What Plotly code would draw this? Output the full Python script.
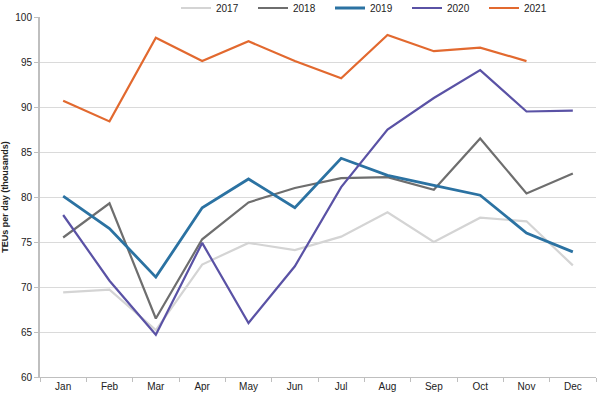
import plotly.graph_objects as go

months = ["Jan", "Feb", "Mar", "Apr", "May", "Jun", "Jul", "Aug", "Sep", "Oct", "Nov", "Dec"]
y2017 = [69.4, 69.7, 65.2, 72.5, 74.9, 74.1, 75.6, 78.3, 75.0, 77.7, 77.3, 72.4]
y2018 = [75.5, 79.3, 66.5, 75.3, 79.4, 81.0, 82.1, 82.2, 80.8, 86.5, 80.4, 82.6]
y2019 = [80.1, 76.5, 71.1, 78.8, 82.0, 78.8, 84.3, 82.4, 81.3, 80.2, 76.0, 73.9]
y2020 = [78.0, 70.7, 64.7, 74.9, 66.0, 72.3, 81.1, 87.5, 91.0, 94.1, 89.5, 89.6]
y2021 = [90.7, 88.4, 97.7, 95.1, 97.3, 95.1, 93.2, 98.0, 96.2, 96.6, 95.1]

series = [
    ("2017", y2017, "#D4D4D4", 2.2),
    ("2018", y2018, "#6E6E6E", 2.2),
    ("2019", y2019, "#2B72A2", 2.8),
    ("2020", y2020, "#5A52A5", 2.2),
    ("2021", y2021, "#E2692F", 2.2),
]

fig = go.Figure()
for name, vals, color, w in series:
    fig.add_trace(go.Scatter(
        x=months[:len(vals)], y=vals, name=name, mode="lines",
        line=dict(color=color, width=w),
    ))

font = "Liberation Sans, Arial, sans-serif"
fig.update_layout(
    width=600, height=394,
    margin=dict(l=40, r=4, t=17, b=17, autoexpand=False),
    paper_bgcolor="white", plot_bgcolor="white",
    font=dict(family=font, size=10, color="#222222"),
    showlegend=True,
    legend=dict(
        orientation="h", xref="container", x=176/600, xanchor="left",
        yref="container", y=(394 - 8) / 394, yanchor="middle",
        font=dict(size=10, color="#222222"),
        bgcolor="rgba(0,0,0,0)", tracegroupgap=0,
        entrywidth=32, entrywidthmode="pixels",
    ),
    xaxis=dict(
        type="category", categoryorder="array", categoryarray=months,
        range=[-0.5, 11.5], showgrid=False,
        showline=True, linecolor="#BFBFBF", linewidth=1,
        ticks="outside", tickson="boundaries", ticklen=4, tickcolor="#BFBFBF",
        tickfont=dict(size=10, color="#222222"), automargin=False,
        fixedrange=True,
    ),
    yaxis=dict(
        range=[60, 100], dtick=5, tick0=60,
        showgrid=True, gridcolor="#DADADA", gridwidth=1,
        showline=True, linecolor="#BFBFBF", linewidth=2,
        ticks="outside", ticklen=4, tickcolor="#BFBFBF",
        tickfont=dict(size=10, color="#222222"), automargin=False,
        zeroline=False,
        title=dict(text="<b>TEUs per day (thousands)</b>", font=dict(size=9, color="#222222"), standoff=12),
    ),
)

fig.write_html(
    "out.html",
    config={"displayModeBar": False},
    post_script="document.body.style.margin='0';document.body.style.overflow='hidden';",
)
